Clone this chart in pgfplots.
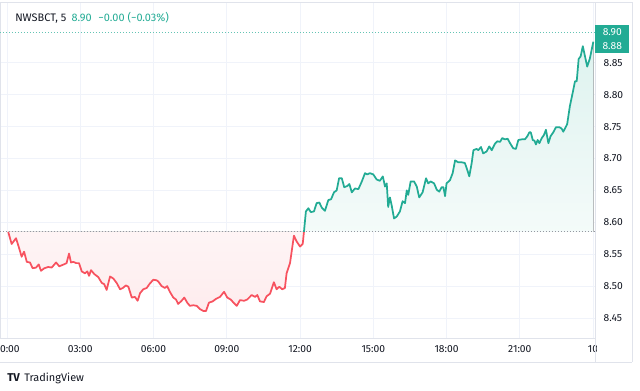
\documentclass[border=0pt]{standalone}
\usepackage{pgfplots}
\pgfplotsset{compat=1.18}
\usepgfplotslibrary{fillbetween}
\usepackage{pgfplotstable}
\usepackage{fontspec}
\setmainfont{Fira Sans}
\definecolor{tvgreen}{HTML}{22AB94}
\definecolor{tvred}{HTML}{F7525F}
\definecolor{tvgrid}{HTML}{F0F3FA}
\definecolor{tvborder}{HTML}{E0E3EB}
\definecolor{tvtext}{HTML}{131722}
\definecolor{tvdot}{HTML}{9598A1}

\pgfplotstableread{
h v
0.05 8.585
0.19 8.566
0.37 8.575
0.50 8.559
0.60 8.546
0.70 8.554
0.81 8.538
0.94 8.537
1.05 8.528
1.19 8.529
1.30 8.534
1.39 8.524
1.53 8.528
1.69 8.530
1.83 8.529
2.01 8.537
2.14 8.531
2.33 8.534
2.44 8.536
2.54 8.551
2.62 8.537
2.72 8.538
2.83 8.536
2.95 8.536
3.06 8.523
3.19 8.520
3.29 8.523
3.36 8.516
3.44 8.525
3.57 8.519
3.74 8.514
3.88 8.505
3.98 8.503
4.08 8.494
4.22 8.515
4.35 8.512
4.49 8.505
4.63 8.495
4.74 8.497
4.87 8.501
4.97 8.499
5.11 8.482
5.24 8.483
5.35 8.477
5.45 8.489
5.58 8.495
5.72 8.497
5.83 8.503
5.99 8.510
6.13 8.509
6.20 8.507
6.33 8.500
6.47 8.497
6.56 8.500
6.67 8.491
6.81 8.482
6.92 8.479
7.01 8.472
7.15 8.477
7.26 8.482
7.38 8.474
7.49 8.469
7.63 8.470
7.77 8.469
7.90 8.464
8.04 8.461
8.15 8.461
8.27 8.474
8.42 8.476
8.56 8.480
8.72 8.483
8.89 8.491
9.02 8.482
9.16 8.479
9.30 8.473
9.41 8.469
9.54 8.478
9.71 8.477
9.84 8.479
10.02 8.486
10.16 8.483
10.25 8.486
10.36 8.476
10.52 8.475
10.63 8.484
10.77 8.488
10.93 8.506
11.04 8.495
11.15 8.499
11.27 8.495
11.38 8.497
11.45 8.520
11.59 8.536
11.75 8.579
11.86 8.570
12.00 8.562
12.11 8.566
12.16 8.585
}\redtab

\pgfplotstableread{
h v
12.16 8.585
12.24 8.617
12.34 8.622
12.44 8.616
12.57 8.617
12.68 8.630
12.79 8.631
12.89 8.623
13.02 8.618
13.16 8.635
13.27 8.636
13.39 8.647
13.50 8.650
13.60 8.669
13.71 8.669
13.81 8.655
13.94 8.657
14.02 8.660
14.12 8.647
14.25 8.653
14.39 8.652
14.53 8.664
14.66 8.677
14.75 8.675
14.86 8.677
15.00 8.675
15.14 8.667
15.27 8.665
15.39 8.672
15.48 8.656
15.55 8.661
15.61 8.624
15.68 8.639
15.75 8.627
15.85 8.606
15.96 8.609
16.09 8.617
16.20 8.633
16.30 8.630
16.37 8.650
16.43 8.643
16.53 8.664
16.67 8.664
16.78 8.656
16.88 8.639
17.02 8.647
17.16 8.669
17.25 8.661
17.35 8.664
17.49 8.661
17.60 8.651
17.70 8.648
17.80 8.655
17.87 8.655
17.94 8.641
18.00 8.661
18.14 8.666
18.25 8.677
18.35 8.697
18.48 8.694
18.62 8.694
18.75 8.693
18.85 8.682
18.93 8.672
19.03 8.693
19.10 8.713
19.23 8.715
19.30 8.713
19.41 8.718
19.50 8.708
19.64 8.711
19.75 8.719
19.85 8.713
19.98 8.723
20.08 8.727
20.19 8.726
20.28 8.732
20.39 8.730
20.50 8.731
20.60 8.724
20.73 8.716
20.84 8.715
20.94 8.729
21.08 8.730
21.21 8.730
21.31 8.735
21.39 8.741
21.45 8.741
21.53 8.729
21.60 8.728
21.66 8.722
21.73 8.729
21.80 8.724
21.90 8.732
21.99 8.737
22.07 8.745
22.17 8.724
22.26 8.735
22.37 8.741
22.48 8.749
22.62 8.749
22.71 8.747
22.78 8.742
22.89 8.750
22.94 8.754
23.05 8.782
23.16 8.802
23.26 8.821
23.33 8.821
23.41 8.856
23.49 8.860
23.58 8.876
23.67 8.860
23.76 8.844
23.87 8.857
24.01 8.883
}\greentab

\begin{document}
\begin{tikzpicture}
\begin{axis}[
  at={(0pt,39.75pt)}, anchor=south west,
  width=446.25pt, height=252pt, scale only axis,
  xmin=-0.2867, xmax=24.079, ymin=8.41865, ymax=8.9453,
  axis line style={draw=tvborder},
  xtick={0,3,6,9,12,15,18,21,24},
  xticklabels={00:00,03:00,06:00,09:00,12:00,15:00,18:00,21:00,10},
  ytick={8.45,8.50,8.55,8.60,8.65,8.70,8.75,8.80,8.85},
  yticklabels={8.45,8.50,8.55,8.60,8.65,8.70,8.75,8.80,8.85},
  yticklabel pos=right,
  grid=major, major grid style={draw=tvgrid, line width=0.7pt},
  major tick length=0pt,
  tick label style={font=\fontsize{7.7}{9}\selectfont, text=tvtext},
  xticklabel style={yshift=-2pt},
  yticklabel style={xshift=3pt},
]
\addplot[name path=rbase, draw=none, forget plot] coordinates {(0.05,8.585) (12.16,8.585)};
\addplot[name path=gbase, draw=none, forget plot] coordinates {(12.16,8.585) (24.01,8.585)};
\addplot[name path=redp, draw=none, forget plot] table[x=h,y=v] {\redtab};
\addplot[name path=greenp, draw=none, forget plot] table[x=h,y=v] {\greentab};
\addplot[draw=none, top color=tvred!6!white, bottom color=tvred!11!white] fill between[of=redp and rbase];
\addplot[draw=none, top color=tvgreen!15!white, bottom color=tvgreen!5!white] fill between[of=greenp and gbase];
\addplot[tvdot, line width=0.6pt, dash pattern=on 0.75pt off 1.5pt] coordinates {(-0.29,8.585) (24.08,8.585)};
\addplot[tvgreen!70!white, line width=0.6pt, dash pattern=on 0.75pt off 1.5pt] coordinates {(-0.29,8.897) (24.08,8.897)};
\addplot[tvred, line width=1.3pt, line join=round] table[x=h,y=v] {\redtab};
\addplot[tvgreen, line width=1.3pt, line join=round] table[x=h,y=v] {\greentab};
\end{axis}
\begin{scope}[x=0.75pt,y=0.75pt]
\fill[white] (597,29.5) rectangle (640,52.5);
\draw[tvborder, line width=0.7pt] (0,29) -- (632,29);
\draw[tvborder, line width=0.7pt] (595,29) -- (595,389);
\draw[tvborder, line width=0.7pt] (632,29) -- (632,389);
\draw[tvborder, line width=0.7pt] (595,389) -- (632,389);
\node[anchor=west, inner sep=0pt, font=\fontsize{8.2}{9}\selectfont] at (15,373)
  {\textcolor{tvtext}{NWSBCT, 5}\hspace{4pt}\textcolor{tvgreen}{8.90}\hspace{5pt}\textcolor{tvgreen}{−0.00 (−0.03\%)}};
\node[fill=tvgreen, text=white, inner sep=0pt, minimum width=25.5pt, minimum height=10.5pt, anchor=west, font=\fontsize{7.7}{9}\selectfont] at (595,358.5) {8.90};
\node[fill=tvgreen, text=white, inner sep=0pt, minimum width=25.5pt, minimum height=10.5pt, anchor=west, font=\fontsize{7.7}{9}\selectfont] at (595,344.5) {8.88};
\node[anchor=west, inner sep=0pt, font=\fontsize{8.5}{9}\selectfont\bfseries, text=tvtext] at (7,13) {TV};
\node[anchor=west, inner sep=0pt, font=\fontsize{8.2}{9}\selectfont, text=tvtext] at (24,13) {TradingView};
\pgfresetboundingbox
\path[use as bounding box] (0,0) rectangle (640,391);
\end{scope}
\end{tikzpicture}
\end{document}
